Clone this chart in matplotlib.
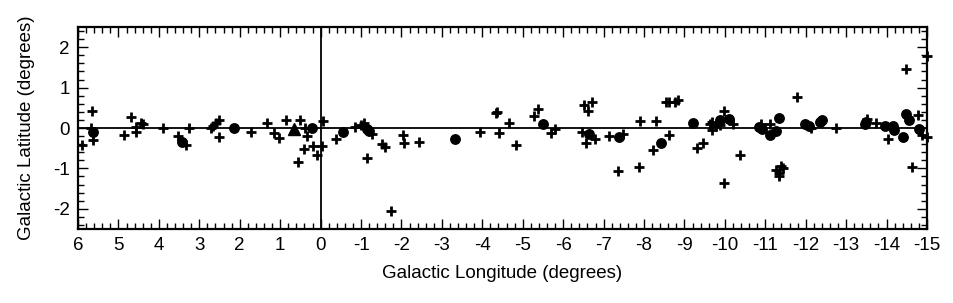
import matplotlib
matplotlib.use("Agg")
import matplotlib.pyplot as plt
from matplotlib.ticker import MultipleLocator

plt.rcParams['font.family'] = ['Liberation Sans', 'DejaVu Sans']
plt.rcParams['axes.unicode_minus'] = False

# Plus-marker sources (longitude, latitude)
plus_lon = [5.89, 5.66, 5.68, 5.63, 4.87, 4.68, 4.57, 4.57, 4.45, 4.39, 3.91, 3.53, 3.32, 3.26,
            2.70, 2.66, 2.59, 2.52, 2.52, 1.73, 1.33, 1.15, 1.03, 0.85, 0.51, 0.39, 0.33, 0.18,
            -0.04, 0.42, 0.10, 0.56, -0.06,
            -0.84, -1.00, -1.08, -1.28, -1.16, -1.52, -1.60, -1.73, -2.03, -2.07, -2.43, -3.95,
            -4.33, -4.37, -4.42, -4.66, -4.83, -0.37,
            -5.28, -5.38, -5.71, -5.79, -6.51, -6.61, -6.71, -6.46, -6.57, -6.79, -7.13, -7.48,
            -7.36, -7.87, -7.89, -8.29, -8.22, -8.62, -8.55, -8.62, -8.76, -8.84, -9.30, -9.46,
            -9.62, -9.67, -9.79, -9.87, -9.67, -9.99, -10.20, -9.99, -10.38,
            -10.90, -11.11, -11.26, -11.34, -11.40, -11.44, -11.33, -11.79, -12.14, -12.76,
            -13.52, -13.75, -14.03, -14.49, -14.64, -14.78, -14.87, -14.99, -15.0]
plus_lat = [-0.41, 0.42, 0.00, -0.30, -0.18, 0.28, 0.02, -0.09, 0.13, 0.09, 0.00, -0.20, -0.42, 0.00,
            0.01, 0.05, 0.12, 0.21, -0.22, -0.10, 0.13, -0.12, -0.24, 0.19, 0.20, 0.00, -0.21, -0.44,
            -0.45, -0.51, -0.66, -0.85, 0.17,
            0.02, 0.07, 0.12, -0.14, -0.75, -0.39, -0.48, -2.06, -0.17, -0.38, -0.34, -0.11,
            0.37, 0.40, -0.12, 0.13, -0.43, -0.26,
            0.30, 0.46, -0.12, -0.03, 0.56, 0.43, 0.64, -0.09, -0.36, -0.26, -0.20, -0.16,
            -1.07, -0.96, 0.17, 0.17, -0.54, -0.18, 0.65, 0.65, 0.65, 0.69, -0.50, -0.36,
            0.09, -0.05, 0.04, 0.08, 0.16, 0.43, 0.11, -1.35, -0.68,
            0.11, 0.11, -1.05, -1.12, -0.95, -0.99, -1.20, 0.76, 0.00, 0.01,
            0.22, 0.12, -0.27, 1.46, -0.96, 0.31, -0.18, -0.23, 1.79]

# Filled-circle sources
circ_lon = [5.63, 3.43, 2.15, 0.21, -0.55, -1.14, -1.20, -3.33,
            -5.49, -6.63, -7.39, -8.41, -9.21, -9.89, -10.10,
            -10.85, -10.93, -11.11, -11.27, -11.34, -11.97, -12.08, -12.35, -12.41,
            -13.46, -13.50, -13.95, -14.16, -14.18, -14.41, -14.48, -14.55, -14.80]
circ_lat = [-0.10, -0.35, 0.00, -0.01, -0.11, -0.03, -0.08, -0.27,
            0.09, -0.16, -0.23, -0.36, 0.12, 0.21, 0.22,
            0.02, -0.03, -0.17, -0.08, 0.24, 0.11, 0.05, 0.16, 0.21,
            0.09, 0.15, 0.05, 0.05, -0.06, -0.23, 0.35, 0.21, -0.02]

# Triangle source
tri_lon = [0.665]
tri_lat = [-0.02]

xticks = list(range(6, -16, -1))
xticklabels = [str(v) for v in xticks]
yticks = [-2, -1, 0, 1, 2]

fig = plt.figure(figsize=(9.54, 3.03), dpi=100)
ax = fig.add_axes([0.0818, 0.2442, 0.8899, 0.6667])

ax.axhline(0, color='black', lw=1.3, zorder=1)
ax.axvline(0, color='black', lw=1.3, zorder=1)

ax.plot(plus_lon, plus_lat, linestyle='none', marker='+', color='black',
        markersize=7.5, markeredgewidth=2.0, clip_on=False, zorder=3)
ax.plot(circ_lon, circ_lat, linestyle='none', marker='o', color='black',
        markersize=6.8, clip_on=False, zorder=3)
ax.plot(tri_lon, tri_lat, linestyle='none', marker='^', color='black',
        markersize=9, clip_on=False, zorder=3)

ax.set_xlim(6, -15)
ax.set_ylim(-2.5, 2.5)
ax.set_xticks(xticks)
ax.set_xticklabels(xticklabels)
ax.set_yticks(yticks)
ax.xaxis.set_minor_locator(MultipleLocator(0.2))
ax.yaxis.set_minor_locator(MultipleLocator(0.2))
ax.tick_params(which='both', direction='in', top=True, right=True, width=1.0,
               labelsize=13.5, colors='black')
ax.tick_params(which='major', length=7, pad=6)
ax.tick_params(which='minor', length=4)
for s in ax.spines.values():
    s.set_linewidth(1.6)

ax.set_xlabel('Galactic Longitude (degrees)', fontsize=13.5, labelpad=8)
ax.set_ylabel('Galactic Latitude (degrees)', fontsize=13.5, labelpad=13)

fig.savefig('out.png', dpi=100)
